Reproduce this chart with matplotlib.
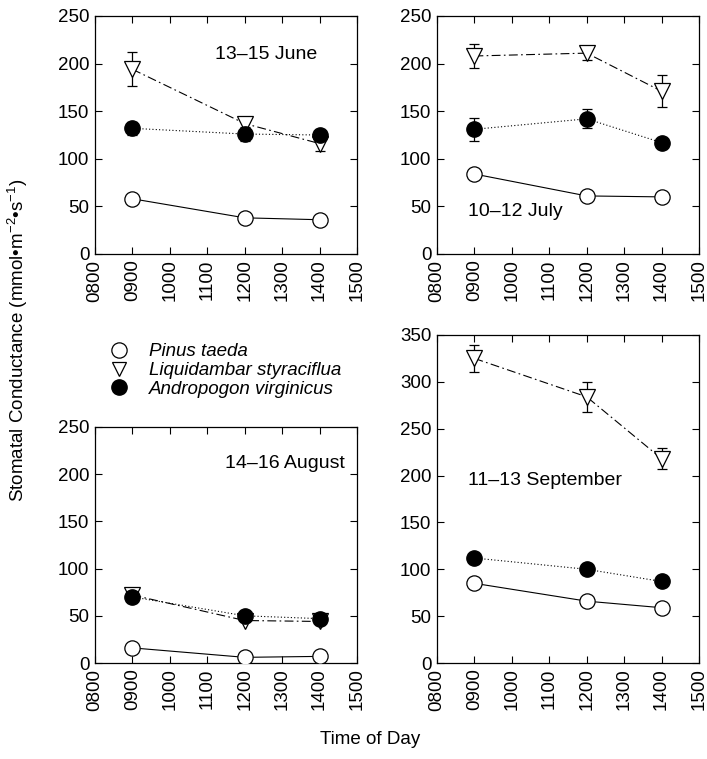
import matplotlib
matplotlib.use("Agg")
import matplotlib.pyplot as plt
from matplotlib.lines import Line2D

plt.rcParams['font.family'] = ['Liberation Sans', 'DejaVu Sans']
plt.rcParams['mathtext.fontset'] = 'custom'
plt.rcParams['mathtext.rm'] = 'Liberation Sans'
plt.rcParams['mathtext.it'] = 'Liberation Sans:italic'

# Time of day (hours) and tick labels
times = [9, 12, 14]
tick_pos = [8, 9, 10, 11, 12, 13, 14, 15]
tick_labels = ["0800", "0900", "1000", "1100", "1200", "1300", "1400", "1500"]

species = ["Pinus taeda", "Liquidambar styraciflua", "Andropogon virginicus"]
periods = ["13\u201315 June", "10\u201312 July", "14\u201316 August", "11\u201313 September"]

# Stomatal conductance values (mmol m-2 s-1)
pinus_june = [58, 38, 36]
liq_june = [194, 137, 116]
liq_june_err = [18, 7, 8]
andro_june = [132, 126, 125]
andro_june_err = [7, 7, 0]

pinus_july = [84, 61, 60]
liq_july = [208, 211, 171]
liq_july_err = [13, 7, 17]
andro_july = [131, 142, 117]
andro_july_err = [12, 10, 0]

pinus_aug = [16, 6, 7]
liq_aug = [72, 45, 44]
liq_aug_err = [4, 0, 0]
andro_aug = [70, 50, 47]
andro_aug_err = [0, 0, 0]

pinus_sep = [85, 66, 59]
liq_sep = [325, 284, 218]
liq_sep_err = [14, 16, 11]
andro_sep = [112, 100, 87]
andro_sep_err = [0, 0, 0]

W, H = 707, 759
fig = plt.figure(figsize=(W / 100, H / 100), dpi=100)

def rect(l, r, t, b):
    return [l / W, 1 - b / H, (r - l) / W, (b - t) / H]

panels = [
    dict(r=rect(95, 357, 16, 254), ymax=250, p=pinus_june, l=liq_june, le=liq_june_err,
         a=andro_june, ae=andro_june_err, label=periods[0], lx=0.85, ly=0.84, ha='right'),
    dict(r=rect(437, 699, 16, 254), ymax=250, p=pinus_july, l=liq_july, le=liq_july_err,
         a=andro_july, ae=andro_july_err, label=periods[1], lx=0.118, ly=0.18, ha='left'),
    dict(r=rect(95, 357, 427, 663), ymax=250, p=pinus_aug, l=liq_aug, le=liq_aug_err,
         a=andro_aug, ae=andro_aug_err, label=periods[2], lx=0.955, ly=0.847, ha='right'),
    dict(r=rect(437, 699, 335, 663), ymax=350, p=pinus_sep, l=liq_sep, le=liq_sep_err,
         a=andro_sep, ae=andro_sep_err, label=periods[3], lx=0.118, ly=0.555, ha='left'),
]

fs = 13.5
lw = 0.8
ms = 11
for pn in panels:
    ax = fig.add_axes(pn['r'])
    # Liquidambar
    ax.errorbar(times, pn['l'], yerr=pn['le'], color='black', lw=lw, ls=(0, (8, 3, 1.5, 3)),
                marker='v', ms=ms + 1, mfc='white', mec='black', mew=0.9,
                capsize=3.5, elinewidth=0.9, capthick=0.9, zorder=3)
    # Andropogon
    ax.errorbar(times, pn['a'], yerr=pn['ae'], color='black', lw=lw, ls=(0, (1, 2)),
                marker='o', ms=ms, mfc='black', mec='black',
                capsize=3.5, elinewidth=0.9, capthick=0.9, zorder=4)
    # Pinus
    ax.plot(times, pn['p'], color='black', lw=lw, ls='-', marker='o', ms=ms,
            mfc='white', mec='black', mew=0.9, zorder=5)
    ax.set_xlim(8, 15)
    ax.set_ylim(0, pn['ymax'])
    ax.set_xticks(tick_pos)
    ax.set_xticklabels(tick_labels, rotation=90, fontsize=fs)
    ax.set_yticks(range(0, pn['ymax'] + 1, 50))
    ax.tick_params(axis='y', labelsize=fs)
    ax.tick_params(direction='in', top=True, right=True, length=5, width=0.8, pad=4)
    for s in ax.spines.values():
        s.set_linewidth(0.9)
    ax.text(pn['lx'], pn['ly'], pn['label'], transform=ax.transAxes, fontsize=14,
            ha=pn['ha'], va='center')

# Legend
handles = [
    Line2D([], [], ls='none', marker='o', ms=11, mfc='white', mec='black', mew=0.9),
    Line2D([], [], ls='none', marker='v', ms=10, mfc='white', mec='black', mew=0.9),
    Line2D([], [], ls='none', marker='o', ms=11, mfc='black', mec='black'),
]
leg = fig.legend(handles, species, loc='upper left', bbox_to_anchor=(98 / W, 1 - 334 / H),
                 frameon=False, prop={'style': 'italic', 'size': 13.5},
                 handlelength=1.2, handletextpad=1.0, labelspacing=0.08, borderpad=0)

fig.text(18 / W, 1 - 340 / H, "Stomatal Conductance (mmol\u2022m$^{-2}$\u2022s$^{-1}$)",
         rotation=90, ha='center', va='center', fontsize=fs)
fig.text(370 / W, 1 - 740 / H, "Time of Day", ha='center', va='center', fontsize=fs)

fig.savefig("out.png", dpi=100)
